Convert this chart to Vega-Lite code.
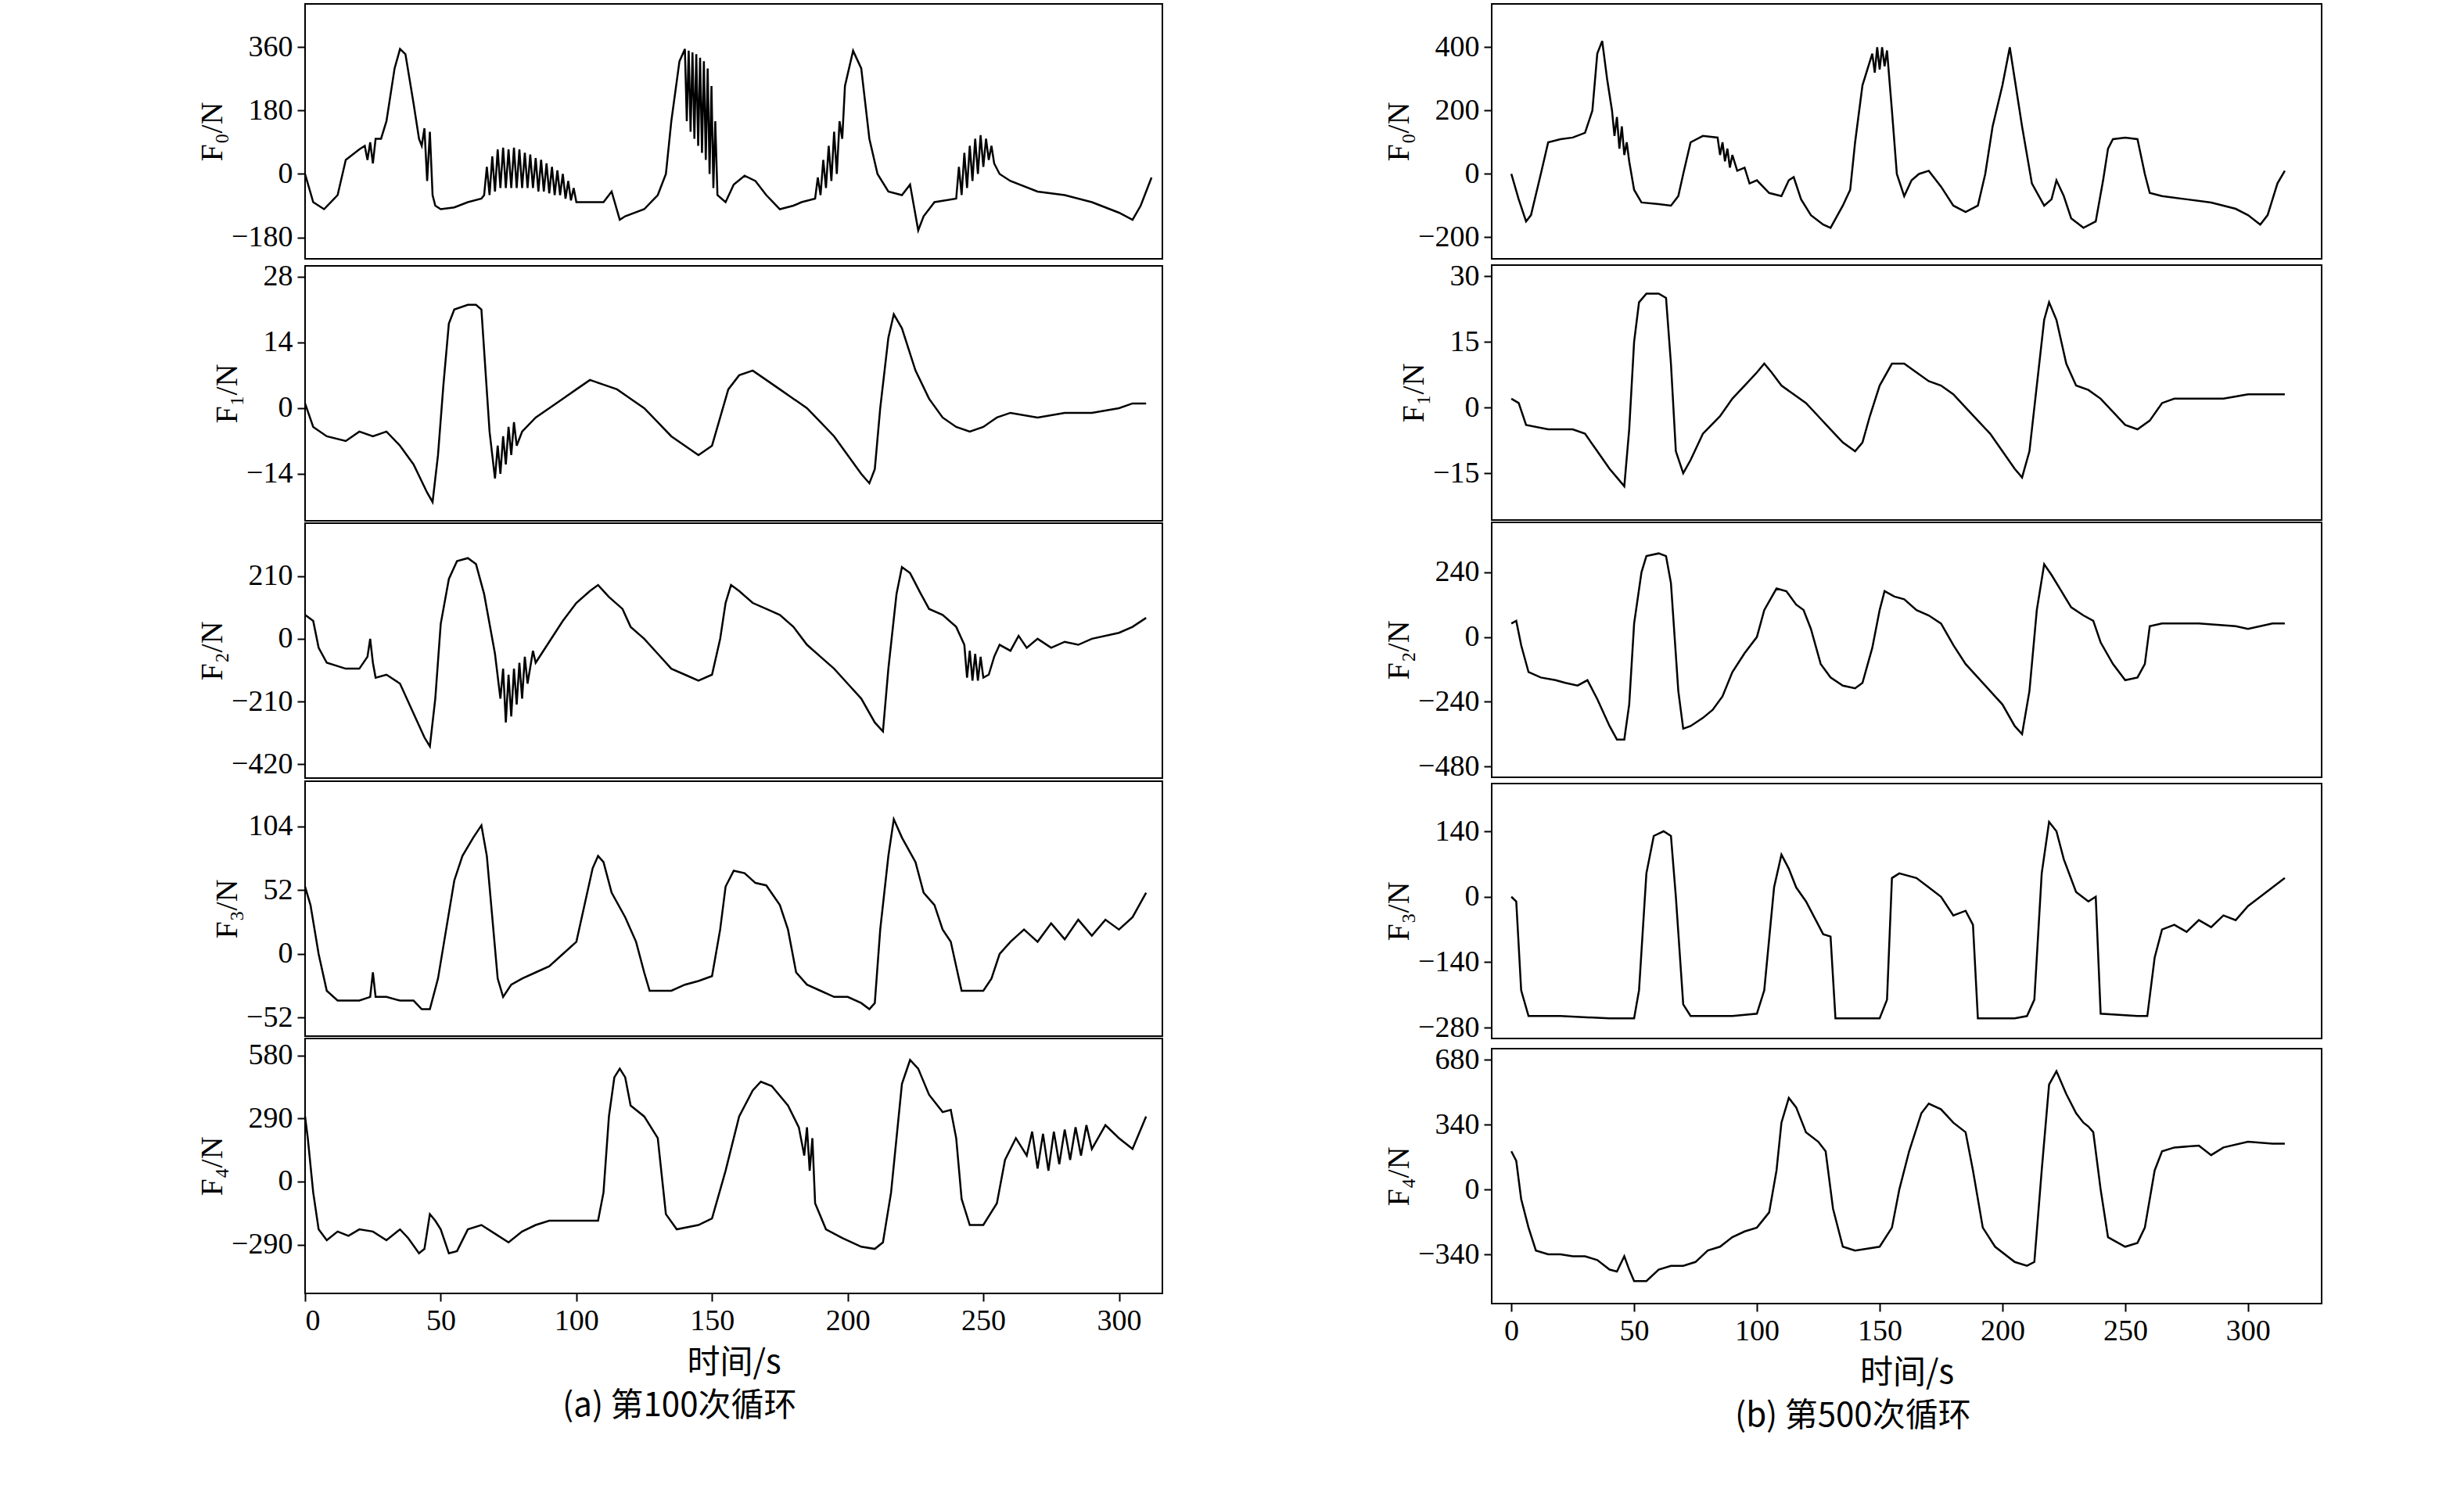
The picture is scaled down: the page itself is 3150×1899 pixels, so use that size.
{
  "$schema": "https://vega.github.io/schema/vega-lite/v6.json",
  "background": "white",
  "padding": {"left": 250, "top": 4, "right": 10, "bottom": 10},
  "config": {
    "font": "Liberation Serif",
    "view": {"stroke": "black", "strokeWidth": 2},
    "axis": {"grid": false, "domain": false, "labelFont": "Liberation Serif", "labelFontSize": 38, "labelColor": "black", "titleFont": "Liberation Serif", "titleFontSize": 40, "titleFontWeight": "normal", "titleColor": "black", "tickColor": "black", "tickWidth": 2, "tickSize": 10, "labelPadding": 6},
    "title": {"font": "Noto Sans CJK SC", "fontSize": 42, "fontWeight": "normal", "color": "black", "anchor": "middle"},
    "concat": {"spacing": 280}
  },
  "datasets": {
    "a0": [{"t":0,"v":0},{"t":3,"v":-80},{"t":7,"v":-100},{"t":12,"v":-60},{"t":15,"v":40},{"t":20,"v":70},{"t":22,"v":80},{"t":23,"v":40},{"t":24,"v":90},{"t":25,"v":30},{"t":26,"v":100},{"t":28,"v":100},{"t":30,"v":150},{"t":33,"v":300},{"t":35,"v":355},{"t":37,"v":340},{"t":40,"v":200},{"t":42,"v":100},{"t":43,"v":80},{"t":44,"v":130},{"t":45,"v":-20},{"t":46,"v":120},{"t":47,"v":-60},{"t":48,"v":-90},{"t":50,"v":-100},{"t":55,"v":-95},{"t":60,"v":-80},{"t":65,"v":-70},{"t":66,"v":-60},{"t":67,"v":20},{"t":68,"v":-60},{"t":69,"v":50},{"t":70,"v":-50},{"t":71,"v":70},{"t":72,"v":-40},{"t":73,"v":75},{"t":74,"v":-40},{"t":75,"v":70},{"t":76,"v":-40},{"t":77,"v":75},{"t":78,"v":-40},{"t":79,"v":70},{"t":80,"v":-40},{"t":81,"v":60},{"t":82,"v":-40},{"t":83,"v":55},{"t":84,"v":-40},{"t":85,"v":45},{"t":86,"v":-50},{"t":87,"v":40},{"t":88,"v":-50},{"t":89,"v":30},{"t":90,"v":-55},{"t":91,"v":20},{"t":92,"v":-60},{"t":93,"v":10},{"t":94,"v":-60},{"t":95,"v":0},{"t":96,"v":-70},{"t":97,"v":-20},{"t":98,"v":-75},{"t":99,"v":-40},{"t":100,"v":-80},{"t":105,"v":-80},{"t":110,"v":-80},{"t":113,"v":-50},{"t":116,"v":-130},{"t":118,"v":-120},{"t":125,"v":-100},{"t":130,"v":-60},{"t":133,"v":0},{"t":135,"v":150},{"t":138,"v":320},{"t":140,"v":355},{"t":140.7,"v":150},{"t":141.4,"v":350},{"t":142.1,"v":120},{"t":142.8,"v":345},{"t":143.5,"v":100},{"t":144.2,"v":340},{"t":144.9,"v":80},{"t":145.6,"v":330},{"t":146.3,"v":60},{"t":147,"v":320},{"t":147.7,"v":40},{"t":148.4,"v":300},{"t":149.1,"v":0},{"t":149.8,"v":250},{"t":150.5,"v":-40},{"t":151.2,"v":150},{"t":152,"v":-60},{"t":155,"v":-80},{"t":158,"v":-30},{"t":162,"v":-5},{"t":166,"v":-20},{"t":170,"v":-60},{"t":175,"v":-100},{"t":180,"v":-90},{"t":183,"v":-80},{"t":188,"v":-70},{"t":189,"v":-10},{"t":190,"v":-60},{"t":191,"v":40},{"t":192,"v":-40},{"t":193,"v":80},{"t":194,"v":-20},{"t":195,"v":120},{"t":196,"v":0},{"t":197,"v":150},{"t":198,"v":100},{"t":199,"v":250},{"t":202,"v":350},{"t":205,"v":300},{"t":208,"v":100},{"t":211,"v":0},{"t":215,"v":-50},{"t":220,"v":-60},{"t":223,"v":-30},{"t":226,"v":-160},{"t":228,"v":-120},{"t":232,"v":-80},{"t":240,"v":-70},{"t":241,"v":20},{"t":242,"v":-60},{"t":243,"v":60},{"t":244,"v":-40},{"t":245,"v":80},{"t":246,"v":-20},{"t":247,"v":100},{"t":248,"v":0},{"t":249,"v":110},{"t":250,"v":20},{"t":251,"v":100},{"t":252,"v":40},{"t":253,"v":80},{"t":254,"v":30},{"t":256,"v":0},{"t":260,"v":-20},{"t":270,"v":-50},{"t":280,"v":-60},{"t":290,"v":-80},{"t":300,"v":-110},{"t":305,"v":-130},{"t":308,"v":-90},{"t":312,"v":-10}],
    "a1": [{"t":0,"v":1},{"t":3,"v":-4},{"t":8,"v":-6},{"t":15,"v":-7},{"t":20,"v":-5},{"t":25,"v":-6},{"t":30,"v":-5},{"t":35,"v":-8},{"t":40,"v":-12},{"t":45,"v":-18},{"t":47,"v":-20},{"t":49,"v":-10},{"t":51,"v":5},{"t":53,"v":18},{"t":55,"v":21},{"t":60,"v":22},{"t":63,"v":22},{"t":65,"v":21},{"t":68,"v":-5},{"t":70,"v":-15},{"t":71,"v":-8},{"t":72,"v":-14},{"t":73,"v":-6},{"t":74,"v":-12},{"t":75,"v":-4},{"t":76,"v":-10},{"t":77,"v":-3},{"t":78,"v":-8},{"t":80,"v":-5},{"t":85,"v":-2},{"t":90,"v":0},{"t":95,"v":2},{"t":100,"v":4},{"t":105,"v":6},{"t":110,"v":5},{"t":115,"v":4},{"t":120,"v":2},{"t":125,"v":0},{"t":130,"v":-3},{"t":135,"v":-6},{"t":140,"v":-8},{"t":145,"v":-10},{"t":150,"v":-8},{"t":153,"v":-2},{"t":156,"v":4},{"t":160,"v":7},{"t":165,"v":8},{"t":170,"v":6},{"t":175,"v":4},{"t":180,"v":2},{"t":185,"v":0},{"t":190,"v":-3},{"t":195,"v":-6},{"t":200,"v":-10},{"t":205,"v":-14},{"t":208,"v":-16},{"t":210,"v":-13},{"t":212,"v":0},{"t":215,"v":15},{"t":217,"v":20},{"t":220,"v":17},{"t":225,"v":8},{"t":230,"v":2},{"t":235,"v":-2},{"t":240,"v":-4},{"t":245,"v":-5},{"t":250,"v":-4},{"t":255,"v":-2},{"t":260,"v":-1},{"t":270,"v":-2},{"t":280,"v":-1},{"t":290,"v":-1},{"t":300,"v":0},{"t":305,"v":1},{"t":310,"v":1}],
    "a2": [{"t":0,"v":80},{"t":3,"v":60},{"t":5,"v":-30},{"t":8,"v":-80},{"t":15,"v":-100},{"t":20,"v":-100},{"t":23,"v":-60},{"t":24,"v":0},{"t":25,"v":-80},{"t":26,"v":-130},{"t":30,"v":-120},{"t":35,"v":-150},{"t":40,"v":-250},{"t":44,"v":-330},{"t":46,"v":-360},{"t":48,"v":-200},{"t":50,"v":50},{"t":53,"v":200},{"t":56,"v":260},{"t":60,"v":270},{"t":63,"v":250},{"t":66,"v":150},{"t":70,"v":-50},{"t":72,"v":-200},{"t":73,"v":-100},{"t":74,"v":-280},{"t":75,"v":-120},{"t":76,"v":-260},{"t":77,"v":-100},{"t":78,"v":-220},{"t":79,"v":-80},{"t":80,"v":-200},{"t":81,"v":-60},{"t":82,"v":-150},{"t":84,"v":-40},{"t":85,"v":-80},{"t":90,"v":-10},{"t":95,"v":60},{"t":100,"v":120},{"t":105,"v":160},{"t":108,"v":180},{"t":112,"v":140},{"t":117,"v":100},{"t":120,"v":40},{"t":125,"v":0},{"t":130,"v":-50},{"t":135,"v":-100},{"t":140,"v":-120},{"t":145,"v":-140},{"t":150,"v":-120},{"t":153,"v":0},{"t":155,"v":120},{"t":157,"v":180},{"t":160,"v":160},{"t":165,"v":120},{"t":170,"v":100},{"t":175,"v":80},{"t":180,"v":40},{"t":185,"v":-20},{"t":190,"v":-60},{"t":195,"v":-100},{"t":200,"v":-150},{"t":205,"v":-200},{"t":210,"v":-280},{"t":213,"v":-310},{"t":215,"v":-100},{"t":218,"v":150},{"t":220,"v":240},{"t":223,"v":220},{"t":227,"v":150},{"t":230,"v":100},{"t":235,"v":80},{"t":240,"v":40},{"t":243,"v":-20},{"t":244,"v":-130},{"t":245,"v":-40},{"t":246,"v":-140},{"t":247,"v":-50},{"t":248,"v":-140},{"t":249,"v":-60},{"t":250,"v":-130},{"t":252,"v":-120},{"t":254,"v":-60},{"t":256,"v":-20},{"t":260,"v":-40},{"t":263,"v":10},{"t":266,"v":-30},{"t":270,"v":0},{"t":275,"v":-30},{"t":280,"v":-10},{"t":285,"v":-20},{"t":290,"v":0},{"t":300,"v":20},{"t":305,"v":40},{"t":310,"v":70}],
    "a3": [{"t":0,"v":55},{"t":2,"v":40},{"t":5,"v":0},{"t":8,"v":-30},{"t":12,"v":-38},{"t":20,"v":-38},{"t":24,"v":-35},{"t":25,"v":-15},{"t":26,"v":-35},{"t":30,"v":-35},{"t":35,"v":-38},{"t":40,"v":-38},{"t":43,"v":-45},{"t":46,"v":-45},{"t":49,"v":-20},{"t":52,"v":20},{"t":55,"v":60},{"t":58,"v":80},{"t":62,"v":95},{"t":65,"v":105},{"t":67,"v":80},{"t":69,"v":30},{"t":71,"v":-20},{"t":73,"v":-35},{"t":76,"v":-25},{"t":80,"v":-20},{"t":85,"v":-15},{"t":90,"v":-10},{"t":95,"v":0},{"t":100,"v":10},{"t":103,"v":40},{"t":106,"v":70},{"t":108,"v":80},{"t":110,"v":75},{"t":113,"v":50},{"t":118,"v":30},{"t":122,"v":10},{"t":125,"v":-15},{"t":127,"v":-30},{"t":135,"v":-30},{"t":140,"v":-25},{"t":145,"v":-22},{"t":150,"v":-18},{"t":153,"v":20},{"t":155,"v":55},{"t":158,"v":68},{"t":162,"v":66},{"t":166,"v":58},{"t":170,"v":56},{"t":175,"v":40},{"t":178,"v":20},{"t":181,"v":-15},{"t":185,"v":-25},{"t":190,"v":-30},{"t":195,"v":-35},{"t":200,"v":-35},{"t":205,"v":-40},{"t":208,"v":-45},{"t":210,"v":-40},{"t":212,"v":20},{"t":215,"v":80},{"t":217,"v":110},{"t":220,"v":95},{"t":225,"v":75},{"t":228,"v":50},{"t":232,"v":40},{"t":235,"v":20},{"t":238,"v":10},{"t":240,"v":-10},{"t":242,"v":-30},{"t":245,"v":-30},{"t":250,"v":-30},{"t":253,"v":-20},{"t":256,"v":0},{"t":260,"v":10},{"t":265,"v":20},{"t":270,"v":10},{"t":275,"v":25},{"t":280,"v":12},{"t":285,"v":28},{"t":290,"v":15},{"t":295,"v":28},{"t":300,"v":20},{"t":305,"v":30},{"t":310,"v":50}],
    "a4": [{"t":0,"v":300},{"t":1,"v":200},{"t":3,"v":-50},{"t":5,"v":-220},{"t":8,"v":-270},{"t":12,"v":-230},{"t":16,"v":-250},{"t":20,"v":-220},{"t":25,"v":-230},{"t":30,"v":-270},{"t":35,"v":-220},{"t":38,"v":-260},{"t":42,"v":-330},{"t":44,"v":-310},{"t":46,"v":-150},{"t":48,"v":-180},{"t":50,"v":-220},{"t":53,"v":-330},{"t":56,"v":-320},{"t":60,"v":-220},{"t":65,"v":-200},{"t":70,"v":-240},{"t":75,"v":-280},{"t":80,"v":-230},{"t":85,"v":-200},{"t":90,"v":-180},{"t":100,"v":-180},{"t":108,"v":-180},{"t":110,"v":-50},{"t":112,"v":300},{"t":114,"v":480},{"t":116,"v":520},{"t":118,"v":480},{"t":120,"v":350},{"t":125,"v":300},{"t":130,"v":200},{"t":133,"v":-150},{"t":137,"v":-220},{"t":145,"v":-200},{"t":150,"v":-170},{"t":155,"v":50},{"t":160,"v":300},{"t":165,"v":420},{"t":168,"v":460},{"t":172,"v":440},{"t":178,"v":350},{"t":182,"v":250},{"t":184,"v":120},{"t":185,"v":250},{"t":186,"v":50},{"t":187,"v":200},{"t":188,"v":-100},{"t":192,"v":-220},{"t":198,"v":-260},{"t":205,"v":-300},{"t":210,"v":-310},{"t":213,"v":-280},{"t":216,"v":-50},{"t":220,"v":450},{"t":223,"v":560},{"t":226,"v":520},{"t":230,"v":400},{"t":235,"v":320},{"t":238,"v":330},{"t":240,"v":200},{"t":242,"v":-80},{"t":245,"v":-200},{"t":250,"v":-200},{"t":255,"v":-100},{"t":258,"v":100},{"t":262,"v":200},{"t":266,"v":120},{"t":268,"v":230},{"t":270,"v":60},{"t":272,"v":220},{"t":274,"v":50},{"t":276,"v":230},{"t":278,"v":80},{"t":280,"v":240},{"t":282,"v":100},{"t":284,"v":250},{"t":286,"v":120},{"t":288,"v":260},{"t":290,"v":150},{"t":295,"v":260},{"t":300,"v":200},{"t":305,"v":150},{"t":310,"v":300}],
    "b0": [{"t":0,"v":0},{"t":3,"v":-80},{"t":6,"v":-150},{"t":8,"v":-130},{"t":12,"v":0},{"t":15,"v":100},{"t":20,"v":110},{"t":25,"v":115},{"t":30,"v":130},{"t":33,"v":200},{"t":35,"v":380},{"t":37,"v":420},{"t":39,"v":300},{"t":41,"v":200},{"t":42,"v":120},{"t":43,"v":180},{"t":44,"v":80},{"t":45,"v":150},{"t":46,"v":60},{"t":47,"v":100},{"t":48,"v":40},{"t":50,"v":-50},{"t":53,"v":-90},{"t":60,"v":-95},{"t":65,"v":-100},{"t":68,"v":-70},{"t":70,"v":0},{"t":73,"v":100},{"t":78,"v":120},{"t":84,"v":115},{"t":85,"v":60},{"t":86,"v":100},{"t":87,"v":40},{"t":88,"v":80},{"t":89,"v":20},{"t":90,"v":60},{"t":92,"v":10},{"t":95,"v":20},{"t":97,"v":-30},{"t":100,"v":-20},{"t":105,"v":-60},{"t":110,"v":-70},{"t":113,"v":-20},{"t":115,"v":-10},{"t":118,"v":-80},{"t":122,"v":-130},{"t":127,"v":-160},{"t":130,"v":-170},{"t":135,"v":-100},{"t":138,"v":-50},{"t":140,"v":100},{"t":143,"v":280},{"t":147,"v":380},{"t":148,"v":320},{"t":149,"v":400},{"t":150,"v":330},{"t":151,"v":400},{"t":152,"v":340},{"t":153,"v":390},{"t":155,"v":200},{"t":157,"v":0},{"t":160,"v":-70},{"t":163,"v":-20},{"t":166,"v":0},{"t":170,"v":10},{"t":175,"v":-40},{"t":180,"v":-100},{"t":185,"v":-120},{"t":190,"v":-100},{"t":193,"v":0},{"t":196,"v":150},{"t":200,"v":280},{"t":203,"v":400},{"t":205,"v":300},{"t":208,"v":150},{"t":212,"v":-30},{"t":217,"v":-100},{"t":220,"v":-80},{"t":222,"v":-20},{"t":225,"v":-70},{"t":228,"v":-140},{"t":233,"v":-170},{"t":238,"v":-150},{"t":241,"v":-20},{"t":243,"v":80},{"t":245,"v":110},{"t":250,"v":115},{"t":255,"v":110},{"t":258,"v":0},{"t":260,"v":-60},{"t":265,"v":-70},{"t":275,"v":-80},{"t":285,"v":-90},{"t":295,"v":-110},{"t":300,"v":-130},{"t":305,"v":-160},{"t":308,"v":-130},{"t":312,"v":-30},{"t":315,"v":10}],
    "b1": [{"t":0,"v":2},{"t":3,"v":1},{"t":6,"v":-4},{"t":15,"v":-5},{"t":25,"v":-5},{"t":30,"v":-6},{"t":35,"v":-10},{"t":40,"v":-14},{"t":43,"v":-16},{"t":46,"v":-18},{"t":48,"v":-5},{"t":50,"v":15},{"t":52,"v":24},{"t":55,"v":26},{"t":60,"v":26},{"t":63,"v":25},{"t":65,"v":10},{"t":67,"v":-10},{"t":70,"v":-15},{"t":73,"v":-12},{"t":78,"v":-6},{"t":85,"v":-2},{"t":90,"v":2},{"t":95,"v":5},{"t":100,"v":8},{"t":103,"v":10},{"t":106,"v":8},{"t":110,"v":5},{"t":115,"v":3},{"t":120,"v":1},{"t":125,"v":-2},{"t":130,"v":-5},{"t":135,"v":-8},{"t":140,"v":-10},{"t":143,"v":-8},{"t":146,"v":-2},{"t":150,"v":5},{"t":155,"v":10},{"t":160,"v":10},{"t":165,"v":8},{"t":170,"v":6},{"t":175,"v":5},{"t":180,"v":3},{"t":185,"v":0},{"t":190,"v":-3},{"t":195,"v":-6},{"t":200,"v":-10},{"t":205,"v":-14},{"t":208,"v":-16},{"t":211,"v":-10},{"t":214,"v":5},{"t":217,"v":20},{"t":219,"v":24},{"t":222,"v":20},{"t":226,"v":10},{"t":230,"v":5},{"t":235,"v":4},{"t":240,"v":2},{"t":245,"v":-1},{"t":250,"v":-4},{"t":255,"v":-5},{"t":260,"v":-3},{"t":265,"v":1},{"t":270,"v":2},{"t":280,"v":2},{"t":290,"v":2},{"t":300,"v":3},{"t":310,"v":3},{"t":315,"v":3}],
    "b2": [{"t":0,"v":50},{"t":2,"v":60},{"t":4,"v":-30},{"t":7,"v":-130},{"t":12,"v":-150},{"t":18,"v":-160},{"t":22,"v":-170},{"t":27,"v":-180},{"t":31,"v":-160},{"t":35,"v":-230},{"t":40,"v":-330},{"t":43,"v":-380},{"t":46,"v":-380},{"t":48,"v":-250},{"t":50,"v":50},{"t":53,"v":240},{"t":55,"v":300},{"t":60,"v":310},{"t":63,"v":300},{"t":65,"v":200},{"t":68,"v":-200},{"t":70,"v":-340},{"t":73,"v":-330},{"t":78,"v":-300},{"t":82,"v":-270},{"t":86,"v":-220},{"t":90,"v":-130},{"t":95,"v":-60},{"t":100,"v":0},{"t":103,"v":100},{"t":108,"v":180},{"t":112,"v":170},{"t":116,"v":120},{"t":119,"v":100},{"t":122,"v":30},{"t":126,"v":-100},{"t":130,"v":-150},{"t":135,"v":-180},{"t":140,"v":-190},{"t":143,"v":-170},{"t":147,"v":-40},{"t":150,"v":100},{"t":152,"v":170},{"t":156,"v":150},{"t":160,"v":140},{"t":165,"v":100},{"t":170,"v":80},{"t":175,"v":50},{"t":180,"v":-30},{"t":185,"v":-100},{"t":190,"v":-150},{"t":195,"v":-200},{"t":200,"v":-250},{"t":205,"v":-330},{"t":208,"v":-360},{"t":211,"v":-200},{"t":214,"v":100},{"t":217,"v":270},{"t":220,"v":230},{"t":224,"v":170},{"t":228,"v":110},{"t":233,"v":80},{"t":237,"v":60},{"t":240,"v":-20},{"t":245,"v":-100},{"t":250,"v":-160},{"t":255,"v":-150},{"t":258,"v":-100},{"t":260,"v":40},{"t":265,"v":50},{"t":280,"v":50},{"t":295,"v":40},{"t":300,"v":30},{"t":310,"v":50},{"t":315,"v":50}],
    "b3": [{"t":0,"v":0},{"t":2,"v":-10},{"t":4,"v":-200},{"t":7,"v":-255},{"t":20,"v":-255},{"t":40,"v":-260},{"t":50,"v":-260},{"t":52,"v":-200},{"t":55,"v":50},{"t":58,"v":130},{"t":62,"v":140},{"t":65,"v":130},{"t":67,"v":0},{"t":70,"v":-230},{"t":73,"v":-255},{"t":90,"v":-255},{"t":100,"v":-250},{"t":103,"v":-200},{"t":107,"v":20},{"t":110,"v":90},{"t":113,"v":60},{"t":116,"v":20},{"t":120,"v":-10},{"t":125,"v":-60},{"t":127,"v":-80},{"t":130,"v":-85},{"t":132,"v":-260},{"t":150,"v":-260},{"t":153,"v":-220},{"t":155,"v":40},{"t":158,"v":50},{"t":165,"v":40},{"t":170,"v":20},{"t":175,"v":0},{"t":180,"v":-40},{"t":185,"v":-30},{"t":188,"v":-60},{"t":190,"v":-260},{"t":205,"v":-260},{"t":210,"v":-255},{"t":213,"v":-220},{"t":216,"v":50},{"t":219,"v":160},{"t":222,"v":140},{"t":225,"v":80},{"t":230,"v":10},{"t":235,"v":-10},{"t":238,"v":0},{"t":240,"v":-250},{"t":255,"v":-255},{"t":259,"v":-255},{"t":262,"v":-130},{"t":265,"v":-70},{"t":270,"v":-60},{"t":275,"v":-75},{"t":280,"v":-50},{"t":285,"v":-65},{"t":290,"v":-40},{"t":295,"v":-50},{"t":300,"v":-20},{"t":305,"v":0},{"t":310,"v":20},{"t":315,"v":40}],
    "b4": [{"t":0,"v":200},{"t":2,"v":150},{"t":4,"v":-50},{"t":7,"v":-200},{"t":10,"v":-320},{"t":15,"v":-340},{"t":20,"v":-340},{"t":25,"v":-350},{"t":30,"v":-350},{"t":35,"v":-370},{"t":40,"v":-420},{"t":43,"v":-430},{"t":46,"v":-350},{"t":48,"v":-420},{"t":50,"v":-480},{"t":55,"v":-480},{"t":60,"v":-420},{"t":65,"v":-400},{"t":70,"v":-400},{"t":75,"v":-380},{"t":80,"v":-320},{"t":85,"v":-300},{"t":90,"v":-250},{"t":95,"v":-220},{"t":100,"v":-200},{"t":105,"v":-120},{"t":108,"v":100},{"t":110,"v":350},{"t":113,"v":480},{"t":116,"v":430},{"t":120,"v":300},{"t":125,"v":250},{"t":128,"v":200},{"t":131,"v":-100},{"t":135,"v":-300},{"t":140,"v":-320},{"t":150,"v":-300},{"t":155,"v":-200},{"t":158,"v":0},{"t":162,"v":200},{"t":167,"v":400},{"t":170,"v":450},{"t":175,"v":420},{"t":180,"v":350},{"t":185,"v":300},{"t":188,"v":100},{"t":192,"v":-200},{"t":197,"v":-300},{"t":205,"v":-380},{"t":210,"v":-400},{"t":213,"v":-380},{"t":216,"v":100},{"t":219,"v":550},{"t":222,"v":620},{"t":226,"v":500},{"t":230,"v":400},{"t":233,"v":350},{"t":235,"v":330},{"t":237,"v":300},{"t":240,"v":0},{"t":243,"v":-250},{"t":250,"v":-300},{"t":255,"v":-280},{"t":258,"v":-200},{"t":262,"v":100},{"t":265,"v":200},{"t":270,"v":220},{"t":280,"v":230},{"t":285,"v":180},{"t":290,"v":220},{"t":300,"v":250},{"t":310,"v":240},{"t":315,"v":240}]
  },
  "hconcat": [
    {
      "title": {"text": "(a) 第100次循环", "orient": "bottom", "offset": 14},
      "spacing": 0,
      "vconcat": [
        {"width": 1096, "height": 326, "data": {"name": "a0"}, "mark": {"type": "line", "color": "black", "strokeWidth": 2.5},
         "encoding": {"x": {"field": "t", "type": "quantitative", "scale": {"domain": [0, 316], "nice": false}, "axis": {"labels": false, "title": null, "tickSize": 0}},
                      "y": {"field": "v", "type": "quantitative", "scale": {"domain": [-241, 483], "nice": false}, "axis": {"values": [-180, 0, 180, 360], "title": "F₀/N"}}}},
        {"width": 1096, "height": 326, "data": {"name": "a1"}, "mark": {"type": "line", "color": "black", "strokeWidth": 2.5},
         "encoding": {"x": {"field": "t", "type": "quantitative", "scale": {"domain": [0, 316], "nice": false}, "axis": {"labels": false, "title": null, "tickSize": 0}},
                      "y": {"field": "v", "type": "quantitative", "scale": {"domain": [-24, 30.3], "nice": false}, "axis": {"values": [-14, 0, 14, 28], "title": "F₁/N"}}}},
        {"width": 1096, "height": 326, "data": {"name": "a2"}, "mark": {"type": "line", "color": "black", "strokeWidth": 2.5},
         "encoding": {"x": {"field": "t", "type": "quantitative", "scale": {"domain": [0, 316], "nice": false}, "axis": {"labels": false, "title": null, "tickSize": 0}},
                      "y": {"field": "v", "type": "quantitative", "scale": {"domain": [-466, 387], "nice": false}, "axis": {"values": [-420, -210, 0, 210], "title": "F₂/N"}}}},
        {"width": 1096, "height": 326, "data": {"name": "a3"}, "mark": {"type": "line", "color": "black", "strokeWidth": 2.5},
         "encoding": {"x": {"field": "t", "type": "quantitative", "scale": {"domain": [0, 316], "nice": false}, "axis": {"labels": false, "title": null, "tickSize": 0}},
                      "y": {"field": "v", "type": "quantitative", "scale": {"domain": [-67, 141], "nice": false}, "axis": {"values": [-52, 0, 52, 104], "title": "F₃/N"}}}},
        {"width": 1096, "height": 326, "data": {"name": "a4"}, "mark": {"type": "line", "color": "black", "strokeWidth": 2.5},
         "encoding": {"x": {"field": "t", "type": "quantitative", "scale": {"domain": [0, 316], "nice": false}, "axis": {"values": [0, 50, 100, 150, 200, 250, 300], "title": "时间/s", "titleFont": "Noto Sans CJK SC", "titleFontSize": 42, "titlePadding": 14}},
                      "y": {"field": "v", "type": "quantitative", "scale": {"domain": [-515, 659], "nice": false}, "axis": {"values": [-290, 0, 290, 580], "title": "F₄/N"}}}}
      ]
    },
    {
      "title": {"text": "(b) 第500次循环", "orient": "bottom", "offset": 14},
      "spacing": 0,
      "vconcat": [
        {"width": 1061, "height": 326, "data": {"name": "b0"}, "mark": {"type": "line", "color": "black", "strokeWidth": 2.5},
         "encoding": {"x": {"field": "t", "type": "quantitative", "scale": {"domain": [-8, 330], "nice": false}, "axis": {"labels": false, "title": null, "tickSize": 0}},
                      "y": {"field": "v", "type": "quantitative", "scale": {"domain": [-268, 537], "nice": false}, "axis": {"values": [-200, 0, 200, 400], "title": "F₀/N"}}}},
        {"width": 1061, "height": 326, "data": {"name": "b1"}, "mark": {"type": "line", "color": "black", "strokeWidth": 2.5},
         "encoding": {"x": {"field": "t", "type": "quantitative", "scale": {"domain": [-8, 330], "nice": false}, "axis": {"labels": false, "title": null, "tickSize": 0}},
                      "y": {"field": "v", "type": "quantitative", "scale": {"domain": [-25.7, 32.5], "nice": false}, "axis": {"values": [-15, 0, 15, 30], "title": "F₁/N"}}}},
        {"width": 1061, "height": 326, "data": {"name": "b2"}, "mark": {"type": "line", "color": "black", "strokeWidth": 2.5},
         "encoding": {"x": {"field": "t", "type": "quantitative", "scale": {"domain": [-8, 330], "nice": false}, "axis": {"labels": false, "title": null, "tickSize": 0}},
                      "y": {"field": "v", "type": "quantitative", "scale": {"domain": [-520, 425], "nice": false}, "axis": {"values": [-480, -240, 0, 240], "title": "F₂/N"}}}},
        {"width": 1061, "height": 326, "data": {"name": "b3"}, "mark": {"type": "line", "color": "black", "strokeWidth": 2.5},
         "encoding": {"x": {"field": "t", "type": "quantitative", "scale": {"domain": [-8, 330], "nice": false}, "axis": {"labels": false, "title": null, "tickSize": 0}},
                      "y": {"field": "v", "type": "quantitative", "scale": {"domain": [-303, 242], "nice": false}, "axis": {"values": [-280, -140, 0, 140], "title": "F₃/N"}}}},
        {"width": 1061, "height": 326, "data": {"name": "b4"}, "mark": {"type": "line", "color": "black", "strokeWidth": 2.5},
         "encoding": {"x": {"field": "t", "type": "quantitative", "scale": {"domain": [-8, 330], "nice": false}, "axis": {"values": [0, 50, 100, 150, 200, 250, 300], "title": "时间/s", "titleFont": "Noto Sans CJK SC", "titleFontSize": 42, "titlePadding": 14}},
                      "y": {"field": "v", "type": "quantitative", "scale": {"domain": [-598, 738], "nice": false}, "axis": {"values": [-340, 0, 340, 680], "title": "F₄/N"}}}}
      ]
    }
  ]
}
